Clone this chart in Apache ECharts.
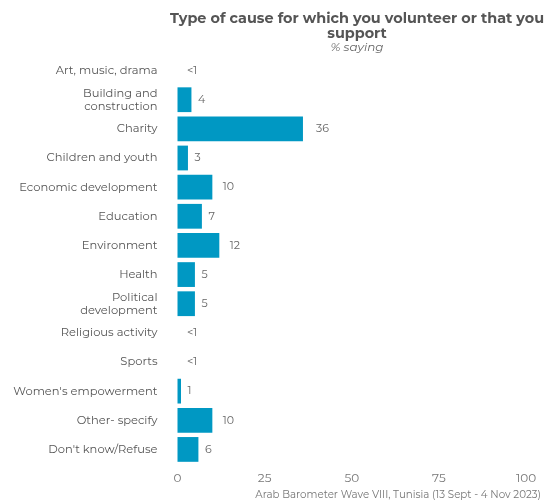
<!DOCTYPE html>
<html><head><meta charset="utf-8">
<script src="https://cdn.jsdelivr.net/npm/echarts@6/dist/echarts.min.js"></script>
<style>html,body{margin:0;padding:0;background:#fff}#c{width:547px;height:503px}</style>
</head><body><div id="c"></div>
<script>
var categories = ["Art, music, drama","Building and\nconstruction","Charity","Children and youth","Economic development","Education","Environment","Health","Political\ndevelopment","Religious activity","Sports","Women's empowerment","Other- specify","Don't know/Refuse"];
var values = [0, 4, 36, 3, 10, 7, 12, 5, 5, 0, 0, 1, 10, 6];
var valueLabels = ["<1","4","36","3","10","7","12","5","5","<1","<1","1","10","6"];
var xTicks = [0, 25, 50, 75, 100];
var FONT = "Montserrat, 'Noto Sans', sans-serif";
function labelGap(i){
  var s = valueLabels[i];
  if (s === '<1') return 9.5;
  if (s.length === 1) return 6.5;
  return values[i] > 20 ? 13 : 10.5;
}
var seriesData = values.map(function(v, i){
  return {value: v, label: {distance: labelGap(i)}};
});
var chart = echarts.init(document.getElementById('c'));
chart.setOption({
  animation: false,
  textStyle: {fontFamily: FONT},
  title: [{
    text: 'Type of cause for which you volunteer or that you\nsupport',
    left: 352, textAlign: 'center', top: 6,
    textStyle: {fontSize: 14.4, fontWeight: 'bold', color: '#555', lineHeight: 15, fontFamily: FONT},
    subtext: '% saying',
    itemGap: 0,
    subtextStyle: {fontSize: 12, fontStyle: 'italic', color: '#666', fontFamily: FONT}
  }, {
    text: 'Arab Barometer Wave VIII, Tunisia (13 Sept - 4 Nov 2023)',
    right: 1, bottom: -2,
    textStyle: {fontSize: 10.3, fontWeight: 'normal', color: '#777', fontFamily: FONT}
  }],
  grid: {left: 177.5, right: 21, top: 56, bottom: 39, containLabel: false},
  xAxis: {
    type: 'value', min: 0, max: 100, interval: 25,
    axisLine: {show: false}, axisTick: {show: false}, splitLine: {show: false},
    axisLabel: {color: '#777', fontSize: 12, margin: 8, fontFamily: FONT,
      formatter: function(v){ return xTicks.indexOf(v) >= 0 ? String(v) : ''; }}
  },
  yAxis: {
    type: 'category', data: categories, inverse: true,
    axisLine: {show: false}, axisTick: {show: false},
    axisLabel: {color: '#555', fontSize: 11.5, margin: 20, lineHeight: 13, fontFamily: FONT, align: 'right'}
  },
  series: [{
    type: 'bar', data: seriesData, barCategoryGap: '15%',
    itemStyle: {color: '#0098c3'},
    label: {show: true, position: 'right', color: '#666', fontSize: 11, fontFamily: FONT,
      formatter: function(p){ return valueLabels[p.dataIndex]; }}
  }]
});
</script></body></html>
